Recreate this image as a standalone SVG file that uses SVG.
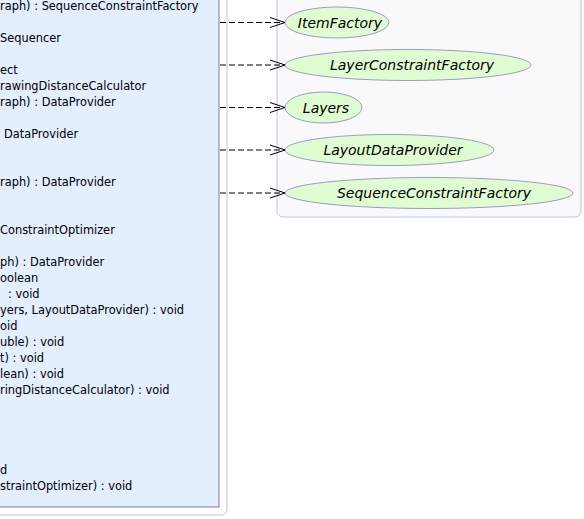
<svg xmlns="http://www.w3.org/2000/svg" width="584" height="519" viewBox="0 0 584 519">
<style>
.m{font-family:"DejaVu Sans",sans-serif;font-size:11.4px;fill:#000}
.lbl{font-family:"DejaVu Sans",sans-serif;font-size:14px;font-style:italic;fill:#000;text-anchor:middle}
.el{fill:#e0fcd2;stroke:#9c9cc0;stroke-width:1}
.cn{fill:none;stroke:#000;stroke-width:1;stroke-dasharray:6,3}
</style>
<defs>
<marker id="open" markerWidth="16" markerHeight="12" refX="15" refY="6" orient="auto" markerUnits="userSpaceOnUse">
<path d="M0,1 L15,6 L0,11" fill="none" stroke="#000" stroke-width="1"/>
</marker>
</defs>
<rect width="584" height="519" fill="#fff"/>
<g id="class-box">
<rect x="-10" y="-10" width="237" height="525" rx="6" fill="#fff" stroke="#b8c0f6" stroke-width="1"/>
<rect x="-10" y="-10" width="229" height="517" fill="#e3eeff" stroke="#7c7cb0" stroke-width="1"/>
<text class="m" x="0" y="10">raph) : SequenceConstraintFactory</text>
<text class="m" x="0" y="42">Sequencer</text>
<text class="m" x="0" y="74">ect</text>
<text class="m" x="0" y="90">rawingDistanceCalculator</text>
<text class="m" x="0" y="106">raph) : DataProvider</text>
<text class="m" x="4" y="138">DataProvider</text>
<text class="m" x="0" y="186">raph) : DataProvider</text>
<text class="m" x="0" y="234">ConstraintOptimizer</text>
<text class="m" x="0" y="266">ph) : DataProvider</text>
<text class="m" x="0" y="282">oolean</text>
<text class="m" x="8" y="298">: void</text>
<text class="m" x="0" y="314">yers, LayoutDataProvider) : void</text>
<text class="m" x="0" y="330">oid</text>
<text class="m" x="0" y="346">uble) : void</text>
<text class="m" x="0" y="362">t) : void</text>
<text class="m" x="0" y="378">lean) : void</text>
<text class="m" x="0" y="394">ringDistanceCalculator) : void</text>
<text class="m" x="0" y="474">d</text>
<text class="m" x="0" y="490">straintOptimizer) : void</text>
</g>
<g id="package">
<rect x="277" y="-10" width="304" height="227" rx="6" fill="#f9f9fb" stroke="#b8c0f6" stroke-width="1"/>
</g>
<g id="ItemFactory">
<ellipse class="el" cx="337" cy="22.5" rx="52" ry="15.5"/>
<text class="lbl" x="340" y="27.5">ItemFactory</text>
</g>
<g id="LayerConstraintFactory">
<ellipse class="el" cx="408" cy="65" rx="123" ry="15.5"/>
<text class="lbl" x="412" y="70">LayerConstraintFactory</text>
</g>
<g id="Layers">
<ellipse class="el" cx="323.5" cy="107.5" rx="38.5" ry="15.5"/>
<text class="lbl" x="326" y="112.5">Layers</text>
</g>
<g id="LayoutDataProvider">
<ellipse class="el" cx="389.5" cy="150" rx="104.5" ry="15.5"/>
<text class="lbl" x="393" y="155">LayoutDataProvider</text>
</g>
<g id="SequenceConstraintFactory">
<ellipse class="el" cx="429" cy="193" rx="144" ry="15.5"/>
<text class="lbl" x="434" y="198">SequenceConstraintFactory</text>
</g>
<g id="connectors">
<line class="cn" x1="220" y1="22.5" x2="285" y2="22.5" marker-end="url(#open)"/>
<line class="cn" x1="220" y1="65" x2="285" y2="65" marker-end="url(#open)"/>
<line class="cn" x1="220" y1="107.5" x2="285" y2="107.5" marker-end="url(#open)"/>
<line class="cn" x1="220" y1="150" x2="285" y2="150" marker-end="url(#open)"/>
<line class="cn" x1="220" y1="193" x2="285" y2="193" marker-end="url(#open)"/>
</g>
</svg>
